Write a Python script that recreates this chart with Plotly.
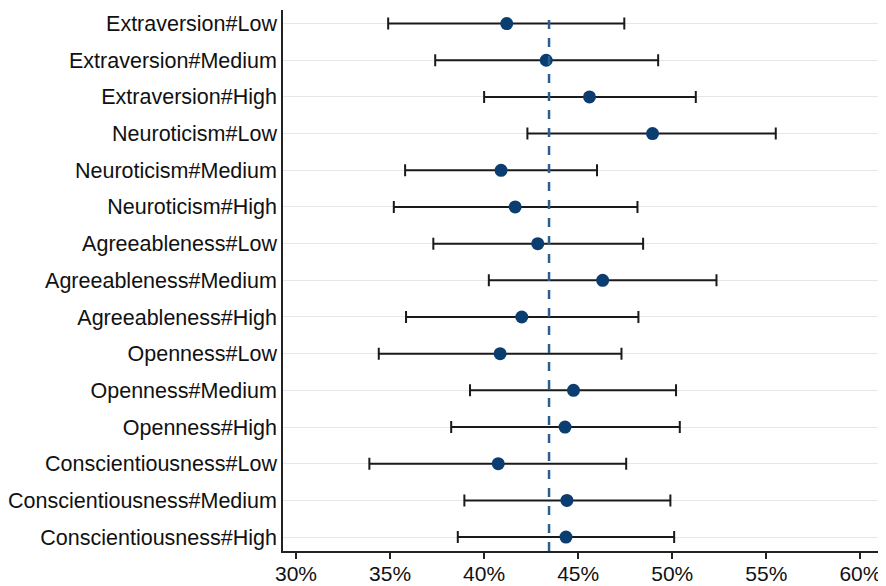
import plotly.graph_objects as go

categories = [
    "Extraversion#Low", "Extraversion#Medium", "Extraversion#High",
    "Neuroticism#Low", "Neuroticism#Medium", "Neuroticism#High",
    "Agreeableness#Low", "Agreeableness#Medium", "Agreeableness#High",
    "Openness#Low", "Openness#Medium", "Openness#High",
    "Conscientiousness#Low", "Conscientiousness#Medium", "Conscientiousness#High",
]
estimate = [41.2, 43.3, 45.6, 48.95, 40.9, 41.65, 42.85, 46.3, 42.0, 40.85, 44.75, 44.3, 40.75, 44.4, 44.35]
ci_low = [34.9, 37.4, 40.0, 42.3, 35.8, 35.2, 37.3, 40.25, 35.85, 34.4, 39.25, 38.25, 33.9, 38.95, 38.6]
ci_high = [47.45, 49.25, 51.25, 55.5, 46.0, 48.15, 48.45, 52.35, 48.2, 47.3, 50.2, 50.4, 47.55, 49.9, 50.1]
reference_line = 43.45
x_ticks = [30, 35, 40, 45, 50, 55, 60]

err_plus = [h - e for h, e in zip(ci_high, estimate)]
err_minus = [e - l for e, l in zip(estimate, ci_low)]

fig = go.Figure()
fig.add_trace(go.Scatter(
    x=estimate, y=categories, mode="markers",
    marker=dict(size=13, color="#0b3d70"),
    error_x=dict(type="data", symmetric=False, array=err_plus, arrayminus=err_minus,
                 color="#1a1a1a", thickness=2, width=6),
    showlegend=False,
))

fig.add_shape(type="line", xref="x", yref="paper", x0=reference_line, x1=reference_line,
              y0=0, y1=0.996, line=dict(color="#2a5f90", width=2.5, dash="dash"))

fig.update_layout(
    width=878, height=578,
    margin=dict(l=275, r=3, t=2, b=35),
    paper_bgcolor="white", plot_bgcolor="white",
    font=dict(family="Liberation Sans, Arial, sans-serif", size=21, color="#111111"),
)
fig.update_xaxes(
    range=[29.31, 61.2], tickvals=x_ticks, ticktext=[f"{t}%" for t in x_ticks],
    showgrid=False, zeroline=False, showline=True, linecolor="#222222", linewidth=1.5,
    ticks="outside", ticklen=6, tickcolor="#222222", tickwidth=1.5,
    tickfont=dict(size=21), automargin=False, ticklabelstandoff=-3,
)
fig.update_yaxes(
    categoryorder="array", categoryarray=categories,
    range=[14.38, -0.37],
    showgrid=True, gridcolor="#e6e6e6", gridwidth=1,
    showline=True, linecolor="#222222", linewidth=1.5, ticks="",
    ticklabelstandoff=0, tickfont=dict(size=21.5), zeroline=False, automargin=False,
)

fig.write_html("out.html")
